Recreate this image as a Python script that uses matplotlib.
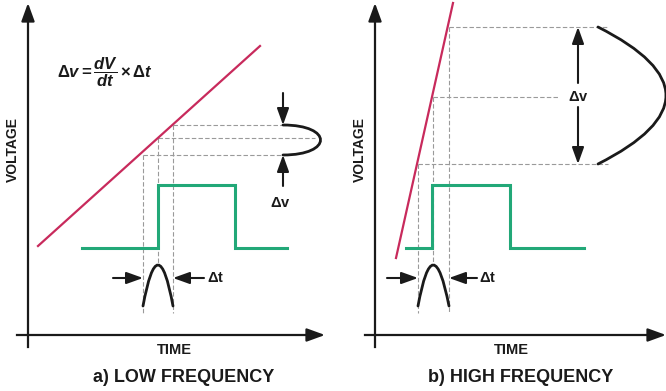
import matplotlib.pyplot as plt
from matplotlib.path import Path
from matplotlib.patches import PathPatch

plt.rcParams["font.family"] = ["Liberation Sans", "DejaVu Sans"]
plt.rcParams["mathtext.fontset"] = "custom"
plt.rcParams["mathtext.rm"] = "Liberation Sans:bold"
plt.rcParams["mathtext.it"] = "Liberation Sans:italic:bold"
plt.rcParams["mathtext.bf"] = "Liberation Sans:bold"

RED = "#c82a5c"
GREEN = "#22a878"
DASH = "#9a9a9a"
INK = "#1a1a1a"

# all values in picture units (x right, y down)
# panel a) low frequency
ramp_a_x = [38, 260]
ramp_a_y = [246, 46]
pulse_a_x = [82, 158, 158, 235, 235, 287]
pulse_a_y = [248, 248, 185, 185, 248, 248]
aperture_a_t = [143, 158, 173]      # start, middle, end of the sampling window
aperture_a_v = [155, 138, 125]      # ramp voltage at those instants
dv_a_x = 283
dv_a_peak = 333
dt_a_label_x = 216

# panel b) high frequency
ramp_b_x = [396, 453]
ramp_b_y = [258, 3]
pulse_b_x = [406, 432, 432, 510, 510, 584]
pulse_b_y = [248, 248, 185, 185, 248, 248]
aperture_b_t = [418, 433, 449]
aperture_b_v = [164, 97, 27]
dv_b_x = 598
dv_b_peak = 734
dv_b_arrow_x = 578
dt_b_label_x = 488

# shared layout
axis_y = 335
bump_base = 306
bump_ctrl = 224
dt_arrow_y = 278

fig = plt.figure(figsize=(6.66, 3.91), dpi=100)
ax = fig.add_axes([0, 0, 1, 1])
ax.set_xlim(0, 666)
ax.set_ylim(391, 0)
ax.axis("off")


def arrow(tail, tip, lw=1.5, hl=1.0, hw=0.36):
    ax.annotate(
        "", xy=tip, xytext=tail,
        arrowprops=dict(arrowstyle=f"-|>,head_length={hl},head_width={hw}",
                        lw=lw, color=INK, shrinkA=0, shrinkB=0),
    )


def dashed(xs, ys):
    ax.plot(xs, ys, color=DASH, lw=0.8, ls=(0, (4, 2)), zorder=1)


def curve(points, codes, lw=2.0):
    ax.add_patch(PathPatch(Path(points, codes), fill=False, lw=lw, color=INK,
                           capstyle="round", zorder=3))


def panel(y_axis_x, x_axis_start, x_axis_end, ramp_x, ramp_y, pulse_x, pulse_y,
          t, v, title, title_x):
    # axes
    ax.plot([y_axis_x, y_axis_x], [347, 20], color=INK, lw=1.6)
    arrow((y_axis_x, 20), (y_axis_x, 3), lw=1.6, hl=1.1, hw=0.4)
    ax.plot([x_axis_start, x_axis_end - 14], [axis_y, axis_y], color=INK, lw=1.6)
    arrow((x_axis_end - 16, axis_y), (x_axis_end, axis_y), lw=1.6, hl=1.1, hw=0.4)

    # ramp and pulse
    ax.plot(ramp_x, ramp_y, color=RED, lw=1.6, zorder=2)
    ax.plot(pulse_x, pulse_y, color=GREEN, lw=2.2, zorder=2, solid_joinstyle="miter")

    # projection lines down to the sampling window
    dashed([t[0], t[0]], [v[0], 313])
    dashed([t[1], t[1]], [v[1], 265])
    dashed([t[2], t[2]], [v[2], 313])

    # aperture bump
    curve([(t[0], bump_base), (t[1], bump_ctrl), (t[2], bump_base)],
          [Path.MOVETO, Path.CURVE3, Path.CURVE3])

    ax.text(y_axis_x - 15, 150, "VOLTAGE", rotation=90, ha="center", va="center",
            fontsize=10, fontweight="bold", color=INK)
    ax.text(title_x, 350, "TIME", ha="center", va="center", fontsize=10.5,
            fontweight="bold", color=INK)
    ax.text(title_x + 10, 377, title, ha="center", va="center", fontsize=13,
            fontweight="bold", color=INK)


panel(28, 17, 325, ramp_a_x, ramp_a_y, pulse_a_x, pulse_a_y,
      aperture_a_t, aperture_a_v, "a) LOW FREQUENCY", 174)
panel(375, 365, 666, ramp_b_x, ramp_b_y, pulse_b_x, pulse_b_y,
      aperture_b_t, aperture_b_v, "b) HIGH FREQUENCY", 511)

# panel a: voltage uncertainty detail
dashed([aperture_a_t[2], dv_a_x], [aperture_a_v[2]] * 2)
dashed([aperture_a_t[1], 315], [aperture_a_v[1]] * 2)
dashed([aperture_a_t[0], dv_a_x], [aperture_a_v[0]] * 2)
curve([(dv_a_x, aperture_a_v[2]), (dv_a_peak, aperture_a_v[2]),
       (dv_a_peak, aperture_a_v[0]), (dv_a_x, aperture_a_v[0])],
      [Path.MOVETO, Path.CURVE4, Path.CURVE4, Path.CURVE4])
arrow((dv_a_x, 93), (dv_a_x, aperture_a_v[2]))
arrow((dv_a_x, 186), (dv_a_x, aperture_a_v[0]))
ax.text(dv_a_x - 3, 203, r"$\Delta$v", ha="center", va="center", fontsize=10.5,
        fontweight="bold", color=INK)
ax.text(57, 72, r"$\Delta v = \dfrac{dV}{dt} \times \Delta t$", ha="left", va="center",
        fontsize=12, color=INK)

# panel a: time window arrows
arrow((113, dt_arrow_y), (aperture_a_t[0], dt_arrow_y))
arrow((204, dt_arrow_y), (aperture_a_t[2], dt_arrow_y))
ax.text(dt_a_label_x, dt_arrow_y, r"$\Delta$t", ha="center", va="center",
        fontsize=10.5, fontweight="bold", color=INK)

# panel b: voltage uncertainty detail
dashed([aperture_b_t[2], 608], [aperture_b_v[2]] * 2)
dashed([aperture_b_t[1], 558], [aperture_b_v[1]] * 2)
dashed([aperture_b_t[0], 608], [aperture_b_v[0]] * 2)
curve([(dv_b_x, aperture_b_v[2]), (dv_b_peak, (aperture_b_v[2] + aperture_b_v[0]) / 2),
       (dv_b_x, aperture_b_v[0])],
      [Path.MOVETO, Path.CURVE3, Path.CURVE3])
arrow((dv_b_arrow_x, 83), (dv_b_arrow_x, aperture_b_v[2]))
arrow((dv_b_arrow_x, 107), (dv_b_arrow_x, aperture_b_v[0]))
ax.text(dv_b_arrow_x, 97, r"$\Delta$v", ha="center", va="center", fontsize=10.5,
        fontweight="bold", color=INK)

# panel b: time window arrows
arrow((387, dt_arrow_y), (aperture_b_t[0], dt_arrow_y))
arrow((477, dt_arrow_y), (aperture_b_t[2], dt_arrow_y))
ax.text(dt_b_label_x, dt_arrow_y, r"$\Delta$t", ha="center", va="center",
        fontsize=10.5, fontweight="bold", color=INK)

fig.savefig("out.png", dpi=100)
